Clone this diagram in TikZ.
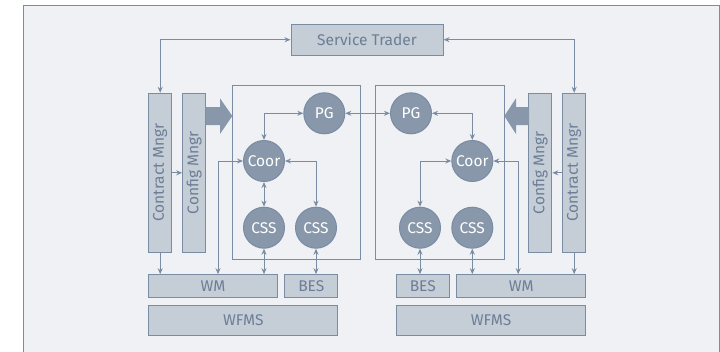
\documentclass[tikz,border=0pt]{standalone}
\usepackage{fontspec}
\setmainfont{Fira Sans}
\usetikzlibrary{arrows.meta}
\definecolor{bgcol}{HTML}{EFF1F5}
\definecolor{boxcol}{HTML}{C5CDD6}
\definecolor{linecol}{HTML}{7A8CA3}
\definecolor{darkcol}{HTML}{8897AA}
\definecolor{txtcol}{HTML}{6C7E96}
\begin{document}
\begin{tikzpicture}[
    x=1pt, y=-1pt,
    every node/.style={font=\fontsize{15.5pt}{18pt}\selectfont, inner sep=0pt},
    box/.style={draw=linecol, fill=boxcol, line width=1pt, text=txtcol},
    comp/.style={draw=linecol, fill=darkcol, line width=1pt, circle, minimum size=41pt, text=white},
    link/.style={draw=linecol, line width=1pt, {Stealth[length=6pt,width=5pt]}-{Stealth[length=6pt,width=5pt]}},
    feed/.style={draw=linecol, line width=1pt, -{Stealth[length=6pt,width=5pt]}},
    push/.style={fill=darkcol}
]
    \clip (0,0) rectangle (720,351);
    \fill[white] (0,0) rectangle (720,351);
    % Frame
    \draw[fill=bgcol, draw=linecol, line width=1.2pt] (23.5,5.5) rectangle (719.5,400);

    % Top
    \node[box, minimum width=152pt, minimum height=31pt] (trader) at (367,39.7) {Service Trader};

    % Left side managers
    \node[box, minimum width=23pt, minimum height=159pt] (lcontract) at (160.2,172.8) {\rotatebox{90}{Contract Mngr}};
    \node[box, minimum width=23pt, minimum height=159pt] (lconfig) at (194.2,172.8) {\rotatebox{90}{Config Mngr}};
    % Right side managers
    \node[box, minimum width=23pt, minimum height=159pt] (rconfig) at (540.3,172.8) {\rotatebox{90}{Config Mngr}};
    \node[box, minimum width=23pt, minimum height=159pt] (rcontract) at (574.2,172.8) {\rotatebox{90}{Contract Mngr}};

    % Containers
    \draw[linecol, line width=1pt] (232.3,85.7) rectangle (360.7,259.3);
    \draw[linecol, line width=1pt] (375.3,85.7) rectangle (504.3,259.3);

    % Configuration arrows
    \fill[push] (205.7,107) -- (220,107) -- (220,98.3) -- (232.3,116) -- (220,134) -- (220,125) -- (205.7,125) -- cycle;
    \fill[push] (529,107) -- (516,107) -- (516,98.3) -- (504.3,116) -- (516,134) -- (516,125) -- (529,125) -- cycle;

    % Left components
    \node[comp] (lpg) at (324.3,113.3) {PG};
    \node[comp] (lcoor) at (264,161) {Coor};
    \node[comp] (lcss1) at (264,227.7) {CSS};
    \node[comp] (lcss2) at (316,227.7) {CSS};
    % Right components
    \node[comp] (rpg) at (411,113.3) {PG};
    \node[comp] (rcoor) at (472.3,161) {Coor};
    \node[comp] (rcss1) at (420,227.7) {CSS};
    \node[comp] (rcss2) at (472.3,227.7) {CSS};

    % Bottom left
    \node[box, minimum width=128.6pt, minimum height=22.6pt] (lwm) at (213,286) {WM};
    \node[box, minimum width=53.3pt, minimum height=22.6pt] (lbes) at (311.3,286) {BES};
    \node[box, minimum width=189.3pt, minimum height=30.3pt] (lwfms) at (243.3,320.2) {WFMS};
    % Bottom right
    \node[box, minimum width=53pt, minimum height=22.6pt] (rbes) at (422.8,286) {BES};
    \node[box, minimum width=129pt, minimum height=22.6pt] (rwm) at (521.2,286) {WM};
    \node[box, minimum width=189.4pt, minimum height=30.3pt] (rwfms) at (491,320.2) {WFMS};

    % Connectors
    \draw[link] (trader.west) -| (lcontract.north);
    \draw[link] (trader.east) -| (rcontract.north);
    \draw[link] (lpg.east) -- (rpg.west);
    \draw[feed] (lcontract.east) -- (lconfig.west);
    \draw[feed] (rcontract.west) -- (rconfig.east);
    \draw[feed] (lcontract.south) -- (lcontract.south |- lwm.north);
    \draw[feed] (rcontract.south) -- (rcontract.south |- rwm.north);
    % Left
    \draw[link] (lpg.west) -| (lcoor.north);
    \draw[link] (lcoor.east) -| (lcss2.north);
    \draw[link] (lcoor.south) -- (lcss1.north);
    \draw[link] (lcoor.west) -| ([xshift=5pt]lwm.north);
    \draw[link] (lcss1.south) -- (lcss1.south |- lwm.north);
    \draw[link] (lcss2.south) -- (lcss2.south |- lbes.north);
    % Right
    \draw[link] (rpg.east) -| (rcoor.north);
    \draw[link] (rcoor.west) -| (rcss1.north);
    \draw[link] (rcoor.east) -| ([xshift=-3pt]rwm.north);
    \draw[link] (rcss1.south) -- (rcss1.south |- rbes.north);
    \draw[link] (rcss2.south) -- (rcss2.south |- rwm.north);
\end{tikzpicture}
\end{document}
